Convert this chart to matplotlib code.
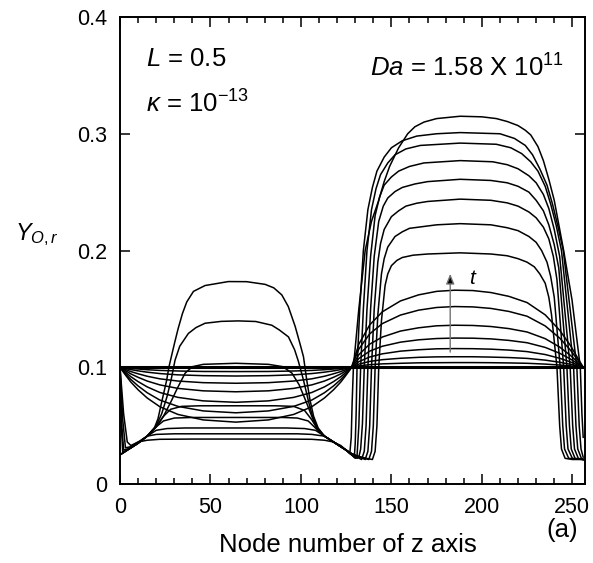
import matplotlib.pyplot as plt
from matplotlib.ticker import MultipleLocator, FixedLocator, FixedFormatter

plt.rcParams['font.family'] = ['Liberation Sans', 'DejaVu Sans']
plt.rcParams['mathtext.fontset'] = 'custom'
plt.rcParams['mathtext.rm'] = 'Liberation Sans'
plt.rcParams['mathtext.it'] = 'Liberation Sans:italic'

# node numbers used for the early profiles
nodes_left = [0, 1, 3, 6, 10, 15, 22, 32, 46, 64, 82, 96, 106, 113, 118, 122, 125, 127, 128]
nodes_right = [132, 138, 145, 155, 165, 175, 185, 195, 205, 215, 225, 235, 243, 249, 253, 256]

# initial state
initial_nodes = [0, 256]
initial_y = [0.1, 0.1]

# early times: left zone sags below 0.1
sag_1 = [0.1, 0.0998, 0.0995, 0.099, 0.0985, 0.0979, 0.0973, 0.0968, 0.0964, 0.0963, 0.0964, 0.0968, 0.0973, 0.0979, 0.0985, 0.099, 0.0995, 0.0998, 0.1]
sag_2 = [0.1, 0.0996, 0.0989, 0.098, 0.0969, 0.0958, 0.0946, 0.0935, 0.0928, 0.0925, 0.0928, 0.0935, 0.0946, 0.0958, 0.0969, 0.098, 0.0989, 0.0996, 0.1]
sag_3 = [0.1, 0.0993, 0.0981, 0.0963, 0.0944, 0.0923, 0.0901, 0.0882, 0.0868, 0.0863, 0.0868, 0.0882, 0.0901, 0.0923, 0.0944, 0.0963, 0.0981, 0.0993, 0.1]
sag_4 = [0.1, 0.0989, 0.0971, 0.0943, 0.0914, 0.0882, 0.0849, 0.0819, 0.0798, 0.079, 0.0798, 0.0819, 0.0849, 0.0882, 0.0914, 0.0943, 0.0971, 0.0989, 0.1]
sag_5 = [0.1, 0.0985, 0.0958, 0.0919, 0.0877, 0.0832, 0.0784, 0.0742, 0.0712, 0.07, 0.0712, 0.0742, 0.0784, 0.0832, 0.0877, 0.0919, 0.0958, 0.0985, 0.1]
sag_6 = [0.1, 0.098, 0.0945, 0.0895, 0.084, 0.0782, 0.0719, 0.0665, 0.0626, 0.061, 0.0626, 0.0665, 0.0719, 0.0782, 0.084, 0.0895, 0.0945, 0.098, 0.1]
sag_7 = [0.1, 0.0976, 0.0934, 0.0873, 0.0807, 0.0737, 0.0662, 0.0596, 0.0549, 0.053, 0.0549, 0.0596, 0.0662, 0.0737, 0.0807, 0.0873, 0.0934, 0.0976, 0.1]

# early times: right zone arches above 0.1
arch_1 = [0.1012, 0.1022, 0.1029, 0.1034, 0.1038, 0.1039, 0.104, 0.104, 0.1039, 0.1037, 0.1034, 0.1027, 0.1019, 0.1011, 0.1005, 0.1]
arch_2 = [0.1027, 0.105, 0.1065, 0.1077, 0.1085, 0.1089, 0.109, 0.109, 0.1087, 0.1083, 0.1076, 0.1061, 0.1043, 0.1025, 0.1011, 0.1]
arch_3 = [0.1048, 0.1088, 0.1115, 0.1138, 0.115, 0.1158, 0.116, 0.1159, 0.1155, 0.1147, 0.1134, 0.1109, 0.1077, 0.1045, 0.1019, 0.1]
arch_4 = [0.1075, 0.1138, 0.118, 0.1215, 0.1235, 0.1246, 0.125, 0.1249, 0.1243, 0.123, 0.121, 0.117, 0.112, 0.107, 0.103, 0.1]
arch_5 = [0.1108, 0.1198, 0.1259, 0.131, 0.1338, 0.1355, 0.136, 0.1358, 0.1349, 0.1331, 0.1302, 0.1245, 0.1173, 0.1101, 0.1043, 0.1]
arch_6 = [0.1156, 0.1286, 0.1374, 0.1447, 0.1489, 0.1512, 0.152, 0.1517, 0.1504, 0.1478, 0.1437, 0.1354, 0.125, 0.1146, 0.1062, 0.1]
arch_7 = [0.1198, 0.1363, 0.1475, 0.1568, 0.162, 0.165, 0.166, 0.1657, 0.164, 0.1607, 0.1554, 0.1449, 0.1317, 0.1185, 0.1079, 0.1]

# later times: full profiles as (node, Y) pairs
late_1 = [(0, 0.1), (2, 0.06), (4, 0.036), (6, 0.033), (10, 0.036), (15, 0.0375), (22, 0.0383), (40, 0.0385),
          (64, 0.0385), (90, 0.0385), (106, 0.0383), (113, 0.0375), (118, 0.036), (122, 0.033), (125, 0.029),
          (128, 0.026), (131, 0.024), (136, 0.022), (139.5, 0.021), (141, 0.028), (142, 0.05), (143, 0.1),
          (144.5, 0.14), (146.5, 0.17), (148, 0.18), (150, 0.187), (153, 0.1915), (156, 0.194), (162, 0.196),
          (170, 0.197), (188, 0.198), (205, 0.197), (214, 0.1955), (220, 0.193), (225, 0.19), (229, 0.186),
          (232, 0.18), (235, 0.172), (237, 0.16), (238.5, 0.145), (241.5, 0.1), (243, 0.05), (244, 0.03),
          (246, 0.022), (250, 0.021), (256, 0.021)]
late_2 = [(0, 0.1), (1.5, 0.055), (3, 0.031), (6, 0.032), (10, 0.036), (15, 0.041), (20, 0.0425), (30, 0.043),
          (64, 0.043), (98, 0.043), (106, 0.0425), (113, 0.041), (118, 0.036), (122, 0.032), (125, 0.029),
          (128, 0.026), (131, 0.024), (135, 0.022), (137.5, 0.021), (139, 0.028), (140, 0.05), (141, 0.1),
          (142.5, 0.145), (144.5, 0.18), (146, 0.193), (148, 0.203), (152, 0.212), (156, 0.216), (160, 0.219),
          (175, 0.222), (188, 0.223), (205, 0.222), (214, 0.2195), (220, 0.217), (226, 0.212), (230, 0.207),
          (233, 0.2), (236, 0.19), (238, 0.178), (240, 0.16), (243.3, 0.1), (244.7, 0.05), (245.7, 0.03),
          (248, 0.022), (256, 0.021)]
late_3 = [(0, 0.1), (1, 0.05), (2, 0.029), (6, 0.031), (10, 0.035), (15, 0.041), (20, 0.046), (26, 0.0475),
          (36, 0.048), (64, 0.048), (92, 0.048), (102, 0.0475), (108, 0.046), (113, 0.041), (118, 0.036),
          (122, 0.032), (125, 0.029), (128, 0.026), (131, 0.024), (134, 0.022), (135.5, 0.021), (137, 0.028),
          (138, 0.05), (139, 0.1), (140.5, 0.15), (142.5, 0.19), (144, 0.206), (146, 0.218), (150, 0.229),
          (154, 0.234), (158, 0.238), (164, 0.2405), (170, 0.242), (188, 0.244), (205, 0.243), (214, 0.2408),
          (220, 0.238), (226, 0.233), (230, 0.228), (234, 0.22), (237, 0.21), (239.5, 0.195), (241.5, 0.175),
          (245.2, 0.1), (246.6, 0.05), (247.6, 0.03), (250, 0.022), (256, 0.021)]
late_4 = [(0, 0.1), (0.7, 0.05), (1.5, 0.027), (6, 0.031), (10, 0.035), (15, 0.041), (20, 0.049), (24, 0.054),
          (30, 0.0565), (40, 0.057), (64, 0.057), (90, 0.057), (98, 0.0565), (104, 0.054), (108, 0.048),
          (113, 0.041), (118, 0.036), (122, 0.032), (125, 0.029), (128, 0.026), (131, 0.023), (133.5, 0.021),
          (135, 0.028), (136, 0.05), (137, 0.1), (138.5, 0.15), (140.5, 0.195), (143, 0.225), (145.5, 0.238),
          (148, 0.245), (152, 0.2505), (156, 0.254), (163, 0.257), (170, 0.259), (188, 0.261), (205, 0.26),
          (214, 0.258), (220, 0.255), (226, 0.25), (230, 0.243), (234, 0.234), (237, 0.222), (240, 0.205),
          (242.5, 0.185), (247, 0.1), (248.4, 0.05), (249.4, 0.03), (251.5, 0.022), (256, 0.021)]
late_5 = [(0, 0.025), (3, 0.028), (6, 0.031), (10, 0.035), (15, 0.041), (20, 0.049), (24, 0.058), (28, 0.064),
          (34, 0.0665), (44, 0.067), (64, 0.067), (86, 0.067), (96, 0.0665), (102, 0.063), (106, 0.055),
          (110, 0.045), (113, 0.041), (118, 0.036), (122, 0.032), (125, 0.029), (128, 0.025), (131, 0.022),
          (132, 0.023), (133, 0.03), (134, 0.052), (135, 0.1), (136.5, 0.15), (138.5, 0.195), (141, 0.23),
          (143.5, 0.246), (146, 0.256), (150, 0.263), (154, 0.268), (160, 0.272), (168, 0.275), (188, 0.277),
          (206, 0.276), (214, 0.2735), (220, 0.27), (226, 0.264), (230, 0.258), (234, 0.248), (237, 0.236),
          (240, 0.218), (243, 0.195), (248.8, 0.1), (250.2, 0.05), (251.2, 0.03), (253.3, 0.022), (256, 0.021)]
late_6 = [(0, 0.025), (3, 0.028), (6, 0.031), (10, 0.035), (15, 0.041), (20, 0.049), (24, 0.058), (28, 0.07),
          (32, 0.083), (36, 0.095), (40, 0.1005), (46, 0.1025), (64, 0.1034), (82, 0.1025), (90, 0.1005),
          (95, 0.095), (99, 0.085), (103, 0.07), (106, 0.058), (109, 0.047), (113, 0.041), (118, 0.036),
          (122, 0.032), (125, 0.029), (128, 0.025), (130, 0.022), (131, 0.024), (132, 0.05), (133, 0.1),
          (134.5, 0.15), (136.5, 0.2), (139, 0.235), (141.5, 0.253), (144, 0.265), (148, 0.275), (152, 0.282),
          (158, 0.287), (166, 0.29), (188, 0.292), (208, 0.291), (216, 0.288), (222, 0.283), (227, 0.276),
          (231, 0.268), (235, 0.255), (238, 0.24), (241, 0.222), (244, 0.2), (250.7, 0.1), (252, 0.05),
          (253, 0.03), (255, 0.022), (256, 0.021)]
late_7 = [(0, 0.025), (3, 0.028), (6, 0.031), (10, 0.035), (15, 0.041), (20, 0.05), (23, 0.06), (26, 0.075),
          (28.2, 0.089), (30.4, 0.106), (33, 0.118), (37.8, 0.129), (42, 0.134), (47, 0.1377), (56, 0.1393),
          (65.4, 0.1397), (75, 0.1392), (83.9, 0.136), (88, 0.132), (93.1, 0.126), (96.5, 0.115), (98.6, 0.105),
          (101.4, 0.089), (104, 0.072), (106, 0.06), (109, 0.048), (113, 0.041), (118, 0.036), (122, 0.032),
          (125, 0.029), (128, 0.025), (129.5, 0.023), (130, 0.035), (130.5, 0.06), (131, 0.1), (132.5, 0.15),
          (134.5, 0.2), (137, 0.235), (139.5, 0.254), (142, 0.268), (146, 0.28), (150, 0.288), (156, 0.294),
          (164, 0.298), (175, 0.3), (188, 0.301), (210, 0.3), (218, 0.296), (224, 0.29), (228, 0.282),
          (232, 0.27), (236, 0.256), (239, 0.24), (242, 0.221), (245, 0.2), (252.5, 0.1), (253.8, 0.05),
          (254.8, 0.03), (256, 0.023)]
late_8 = [(0, 0.025), (3, 0.028), (6, 0.031), (10, 0.035), (15, 0.041), (19, 0.048), (21, 0.056), (23, 0.07),
          (25.8, 0.089), (27, 0.1), (30.1, 0.1205), (32.1, 0.133), (34.5, 0.146), (36.9, 0.156), (40.6, 0.165),
          (47, 0.17), (59.9, 0.1734), (70, 0.1733), (80.2, 0.171), (85, 0.168), (89.4, 0.162), (93, 0.152),
          (96.8, 0.135), (99.5, 0.12), (101.4, 0.109), (103.2, 0.089), (105, 0.072), (107, 0.058),
          (109.5, 0.048), (113, 0.041), (118, 0.036), (122, 0.032), (125, 0.029), (127, 0.026), (127.8, 0.04),
          (128.3, 0.07), (129, 0.1), (132, 0.15), (135.5, 0.2), (139, 0.225), (143, 0.243), (146, 0.259),
          (149, 0.272), (154, 0.288), (159, 0.3), (163, 0.306), (168, 0.31), (175, 0.313), (188, 0.315),
          (200, 0.3145), (208, 0.313), (214, 0.3105), (220, 0.307), (224, 0.303), (227, 0.299), (231, 0.289),
          (234, 0.277), (237, 0.261), (240, 0.243), (245.2, 0.2), (249.8, 0.158), (254.4, 0.1), (255.3, 0.06),
          (256, 0.04)]

sags = [sag_1, sag_2, sag_3, sag_4, sag_5, sag_6, sag_7]
arches = [arch_1, arch_2, arch_3, arch_4, arch_5, arch_6, arch_7]
late = [late_1, late_2, late_3, late_4, late_5, late_6, late_7, late_8]

fig = plt.figure(figsize=(5.93, 5.63), dpi=100)
ax = fig.add_axes([0.2024, 0.1403, 0.7841, 0.8295])

lw = 1.1
ax.plot(initial_nodes, initial_y, color='k', lw=2.2)
for s, a in zip(sags, arches):
    ax.plot(nodes_left + nodes_right, s + a, color='k', lw=lw)
for prof in late:
    ax.plot([p[0] for p in prof], [p[1] for p in prof], color='k', lw=lw)

# direction of increasing time
ax.annotate('', xy=(182.5, 0.18), xytext=(182.5, 0.113),
            arrowprops=dict(arrowstyle='-|>,head_length=0.6,head_width=0.25', ec='0.45', fc='k', lw=1.0,
                            shrinkA=0, shrinkB=0))
ax.text(193, 0.176, 't', fontsize=15, style='italic', ha='left', va='center')

ax.set_xlim(0, 257)
ax.set_ylim(0, 0.4)
ax.xaxis.set_major_locator(MultipleLocator(50))
ax.xaxis.set_minor_locator(MultipleLocator(10))
ax.yaxis.set_major_locator(FixedLocator([0, 0.1, 0.2, 0.3, 0.4]))
ax.yaxis.set_major_formatter(FixedFormatter(['0', '0.1', '0.2', '0.3', '0.4']))
ax.tick_params(which='both', direction='in', top=True, right=True, labelsize=15.5, width=1.1)
ax.tick_params(which='major', length=7)
ax.tick_params(which='minor', length=4)
ax.tick_params(axis='x', pad=9)
ax.tick_params(axis='y', pad=9)
for sp in ax.spines.values():
    sp.set_linewidth(1.4)

fig.text(0.587, 0.032, 'Node number of z axis', fontsize=18.5, ha='center', va='center')
fig.text(0.025, 0.574, r'$Y_{O,r}$', fontsize=17, ha='left', va='baseline')
fig.text(0.975, 0.059, '(a)', fontsize=18.5, ha='right', va='center')

ax.text(0.055, 0.895, r'$L$ = 0.5', transform=ax.transAxes, fontsize=18.5, va='baseline')
ax.text(0.055, 0.795, r'$\kappa$ = 10$^{-13}$', transform=ax.transAxes, fontsize=18.5, va='baseline')
ax.text(0.955, 0.873, r'$Da$ = 1.58 X 10$^{11}$', transform=ax.transAxes, fontsize=18.5, ha='right', va='baseline')

fig.savefig('out.png', dpi=100, facecolor='white')
